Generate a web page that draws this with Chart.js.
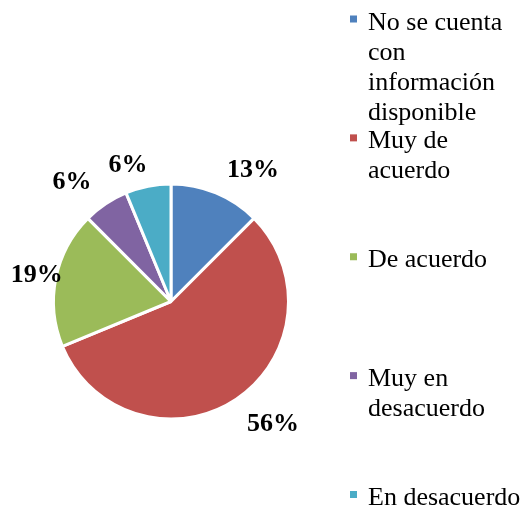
<!DOCTYPE html>
<html>
<head>
<meta charset="utf-8">
<script src="https://cdn.jsdelivr.net/npm/chart.js@4"></script>
<style>
  html, body { margin: 0; padding: 0; background: #ffffff; }
  #wrap { width: 523px; height: 510px; position: relative; }
</style>
</head>
<body>
<div id="wrap"><canvas id="c" width="523" height="510"></canvas></div>
<script>
// ---- data ----
const categories = ['No se cuenta con información disponible', 'Muy de acuerdo', 'De acuerdo', 'Muy en desacuerdo', 'En desacuerdo'];
const shares = [12.5, 56.25, 18.75, 6.25, 6.25];
const percentLabels = ['13%', '56%', '19%', '6%', '6%'];

// ---- styling / layout (not data) ----
const colors = ['#4F81BD', '#C0504D', '#9BBB59', '#8064A2', '#4BACC6'];
const labelNudges = [[27, 1.5], [22, 3], [7, 1.5], [-19, 1], [-15, 5]];
const SERIF = '"Liberation Serif", "Times New Roman", serif';

const dataLabelPlugin = {
  id: 'dataLabels',
  afterDatasetsDraw(chart) {
    const ctx = chart.ctx;
    const meta = chart.getDatasetMeta(0);
    ctx.save();
    ctx.font = 'bold 26px ' + SERIF;
    ctx.fillStyle = '#000000';
    ctx.textAlign = 'center';
    ctx.textBaseline = 'middle';
    meta.data.forEach((arc, i) => {
      const p = arc.getProps(['x', 'y', 'startAngle', 'endAngle', 'outerRadius'], true);
      const mid = (p.startAngle + p.endAngle) / 2;
      const d = p.outerRadius + 26.5;
      const x = p.x + Math.cos(mid) * d + labelNudges[i][0];
      const y = p.y + Math.sin(mid) * d + labelNudges[i][1];
      ctx.fillText(percentLabels[i], x, y);
    });
    ctx.restore();
  }
};

const sideLegendPlugin = {
  id: 'sideLegend',
  afterDraw(chart) {
    const ctx = chart.ctx;
    const labels = chart.data.labels;
    const bg = chart.data.datasets[0].backgroundColor;
    const markerX = 350, textX = 368, maxW = 156, lineH = 30;
    const firstY = 21, lastY = chart.height - 13.5;
    const step = (lastY - firstY) / (labels.length - 1);
    ctx.save();
    ctx.font = '26px ' + SERIF;
    ctx.fillStyle = '#000000';
    ctx.textAlign = 'left';
    ctx.textBaseline = 'alphabetic';
    labels.forEach((lab, i) => {
      const cy = firstY + i * step;
      const words = lab.split(' ');
      const lines = [];
      let cur = '';
      words.forEach(w => {
        const test = cur ? cur + ' ' + w : w;
        if (ctx.measureText(test).width > maxW && cur) { lines.push(cur); cur = w; }
        else cur = test;
      });
      if (cur) lines.push(cur);
      ctx.fillStyle = bg[i];
      ctx.fillRect(markerX, cy - 5.5, 7, 7);
      ctx.fillStyle = '#000000';
      lines.forEach((ln, k) => {
        ctx.fillText(ln, textX, cy + 8.6 + k * lineH);
      });
    });
    ctx.restore();
  }
};

new Chart(document.getElementById('c'), {
  type: 'pie',
  data: {
    labels: categories,
    datasets: [{
      data: shares,
      backgroundColor: colors,
      borderColor: '#ffffff',
      borderWidth: 3
    }]
  },
  options: {
    responsive: false,
    animation: false,
    devicePixelRatio: 1,
    radius: 117.5,
    layout: { padding: { left: 53.5, right: 234.5, top: 184, bottom: 91 } },
    plugins: {
      legend: { display: false },
      tooltip: { enabled: false }
    }
  },
  plugins: [dataLabelPlugin, sideLegendPlugin]
});
</script>
</body>
</html>
